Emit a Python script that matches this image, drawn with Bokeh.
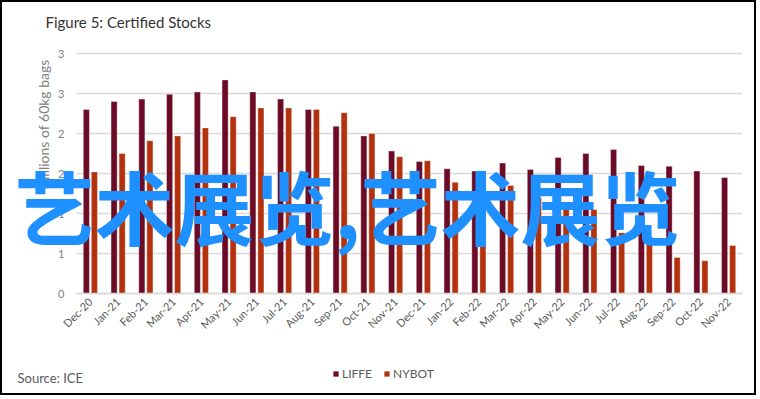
from math import pi
import numpy as np
from bokeh.plotting import figure
from bokeh.models import (ColumnDataSource, FixedTicker, Label, Legend,
                          LegendItem, Range1d)
from bokeh.embed import file_html
from bokeh.resources import INLINE

months = ["Dec-20", "Jan-21", "Feb-21", "Mar-21", "Apr-21", "May-21", "Jun-21",
          "Jul-21", "Aug-21", "Sep-21", "Oct-21", "Nov-21", "Dec-21", "Jan-22",
          "Feb-22", "Mar-22", "Apr-22", "May-22", "Jun-22", "Jul-22", "Aug-22",
          "Sep-22", "Oct-22", "Nov-22"]
liffe = [2.30, 2.40, 2.43, 2.49, 2.52, 2.67, 2.52, 2.43, 2.30, 2.09, 1.97, 1.78,
         1.65, 1.56, 1.53, 1.63, 1.55, 1.70, 1.75, 1.80, 1.60, 1.59, 1.53, 1.45]
nybot = [1.52, 1.75, 1.91, 1.97, 2.07, 2.21, 2.32, 2.32, 2.30, 2.26, 2.00, 1.71,
         1.66, 1.39, 1.22, 1.35, 1.20, 1.10, 1.05, 0.76, 0.71, 0.45, 0.41, 0.60]
y_ticks = [0, 0.5, 1.0, 1.5, 2.0, 2.5, 3.0]
y_tick_labels = ["0", "1", "1", "2", "2", "3", "3"]

series_names = ["LIFFE", "NYBOT"]
series_colors = ["#6C0B25", "#B3310D"]

title_text = "Figure 5: Certified Stocks"
y_title = "Millions of 60kg bags"
source_text = "Source: ICE"
watermark_text = "艺术展览,艺术展览"

FONT = "Lato"
W, H = 756, 395                  # canvas (plus a 2px border = 760 x 399)
X0, X1 = 74, 740                 # canvas px of the category area
Y_TOP, Y_ZERO = 51, 291          # canvas px of the 3.0 and 0 gridlines
Y_MAX = 3.0
n = len(months)
CAT_W = (X1 - X0) / n
PX = (Y_ZERO - Y_TOP) / Y_MAX


def dx(cx):
    return (cx - X0) / CAT_W - 0.5


def dy(cy):
    return (Y_ZERO - cy) / PX


xpos = np.arange(n)
src = ColumnDataSource(dict(x1=xpos - 0.145, x2=xpos + 0.145,
                            liffe=liffe, nybot=nybot))

p = figure(x_range=Range1d(dx(0), dx(W)), y_range=Range1d(dy(H), dy(0)),
           width=W, height=H,
           output_backend="svg", toolbar_location=None, title=None,
           min_border_left=0, min_border_right=0,
           min_border_top=0, min_border_bottom=0)
p.styles = {"border": "2px solid #000000"}
p.outline_line_color = None
p.background_fill_color = "white"
p.border_fill_color = "white"
p.grid.visible = False

# gridlines across the category area only
p.segment(x0=-0.5, x1=n - 0.5, y0=y_ticks, y1=y_ticks,
          line_color="#D9D9D9", line_width=1.5)

r1 = p.vbar(x="x1", top="liffe", width=0.22, source=src,
            fill_color=series_colors[0], line_color="white",
            line_alpha=0.45, line_width=0.8)
r2 = p.vbar(x="x2", top="nybot", width=0.22, source=src,
            fill_color=series_colors[1], line_color="white",
            line_alpha=0.45, line_width=0.8)

# y axis drawn just left of the category area
p.yaxis.fixed_location = dx(62)
p.yaxis.ticker = FixedTicker(ticks=y_ticks)
p.yaxis.major_label_overrides = {t: l for t, l in zip(y_ticks, y_tick_labels)}
p.yaxis.axis_line_color = None
p.yaxis.major_tick_line_color = None
p.yaxis.minor_tick_line_color = None
p.yaxis.major_tick_out = 0
p.yaxis.major_tick_in = 0
p.yaxis.major_label_standoff = 0
p.yaxis.major_label_text_color = "#808080"
p.yaxis.major_label_text_font = FONT
p.yaxis.major_label_text_font_size = "11px"

# x axis with month labels, drawn on the zero line
p.xaxis.fixed_location = 0
p.xaxis.ticker = FixedTicker(ticks=list(xpos))
p.xaxis.major_label_overrides = {int(i): m for i, m in zip(xpos, months)}
p.xaxis.bounds = (-0.5, n - 0.5)
p.xaxis.axis_line_color = "#D9D9D9"
p.xaxis.axis_line_width = 1.5
p.xaxis.major_tick_line_color = None
p.xaxis.minor_tick_line_color = None
p.xaxis.major_tick_out = 0
p.xaxis.major_label_orientation = pi / 4
p.xaxis.major_label_text_color = "#595959"
p.xaxis.major_label_text_font = FONT
p.xaxis.major_label_text_font_size = "11px"
p.xaxis.major_label_standoff = 6

# legend inside the (full-canvas) frame
items = [LegendItem(label=series_names[0], renderers=[r1]),
         LegendItem(label=series_names[1], renderers=[r2])]
legend = Legend(items=items, orientation="horizontal", location=(330, H - 379),
                glyph_width=7, glyph_height=7, label_height=12,
                label_standoff=3, spacing=11, padding=0, margin=0,
                border_line_color=None, background_fill_alpha=0,
                label_text_font=FONT, label_text_font_size="12px",
                label_text_color="#595959")
p.add_layout(legend, "center")

# texts
p.add_layout(Label(x=dx(43), y=dy(19), text=title_text, text_font=FONT,
                   text_font_size="15px", text_color="#333333",
                   text_align="left", text_baseline="middle"))
p.add_layout(Label(x=dx(41), y=dy(122), text=y_title, angle=pi / 2,
                   text_font=FONT, text_font_size="14px",
                   text_color="#808080", text_align="center",
                   text_baseline="middle"))
p.add_layout(Label(x=dx(15), y=dy(375), text=source_text, text_font=FONT,
                   text_font_size="13px", text_color="#595959",
                   text_align="left", text_baseline="middle"))
p.add_layout(Label(x=dx(12), y=dy(201), text=watermark_text,
                   text_font="Noto Sans CJK SC", text_font_style="bold",
                   text_font_size="80px", text_color="#1E90FF",
                   text_align="left", text_baseline="middle"))

open("out.html", "w").write(file_html(p, INLINE))
